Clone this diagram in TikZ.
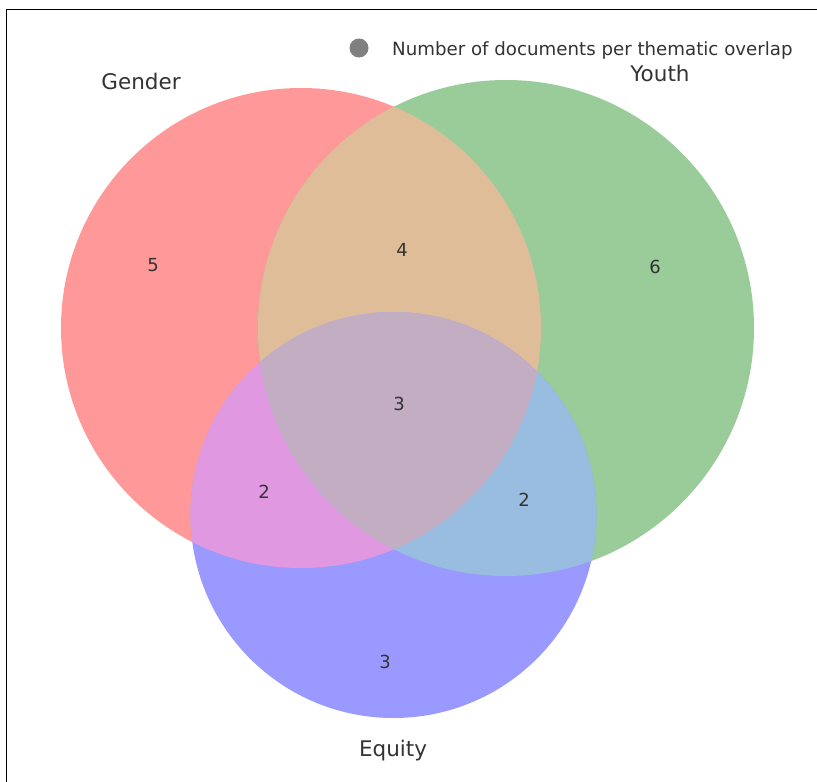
\documentclass[tikz,border=0pt]{standalone}
\usepackage{fontspec}
\setmainfont{DejaVu Sans}
\definecolor{cA}{RGB}{255,153,153}
\definecolor{cB}{RGB}{153,204,153}
\definecolor{cC}{RGB}{153,153,255}
\definecolor{cAB}{RGB}{224,189,153}
\definecolor{cAC}{RGB}{224,153,224}
\definecolor{cBC}{RGB}{153,189,224}
\definecolor{cABC}{RGB}{194,173,194}
\definecolor{txt}{RGB}{51,51,51}
\begin{document}
\begin{tikzpicture}[x=1pt,y=-1pt,
  setlabel/.style={font=\fontsize{21.5}{24}\selectfont, text=txt, anchor=base, inner sep=0pt},
  numlabel/.style={font=\fontsize{18}{20}\selectfont, text=txt, anchor=base, inner sep=0pt},
  legtext/.style={font=\fontsize{18.2}{20}\selectfont, text=txt, anchor=base west, inner sep=0pt}]
\useasboundingbox (0,0) rectangle (817,782);
\fill[white] (0,0) rectangle (817,782);
% circles
\def\circA{(301,328) circle (240)}
\def\circB{(506,328) circle (248)}
\def\circC{(393.5,515) circle (203)}
\fill[cA] \circA;
\fill[cB] \circB;
\fill[cC] \circC;
\begin{scope}\clip \circA; \fill[cAB] \circB; \end{scope}
\begin{scope}\clip \circA; \fill[cAC] \circC; \end{scope}
\begin{scope}\clip \circB; \fill[cBC] \circC; \end{scope}
\begin{scope}\clip \circA; \clip \circB; \fill[cABC] \circC; \end{scope}
% frame
\draw[black, line width=1.5pt] (6.5,782) -- (6.5,9.5) -- (817,9.5);
% set labels
\node[setlabel] (lgender) at (141,89) {Gender};
\node[setlabel] (lyouth) at (660,81) {Youth};
\node[setlabel] (lequity) at (393,756) {Equity};
% region numbers
\node[numlabel] (nA) at (153,271) {5};
\node[numlabel] (nAB) at (402,256) {4};
\node[numlabel] (nB) at (655,273) {6};
\node[numlabel] (nABC) at (399,410) {3};
\node[numlabel] (nAC) at (264,498) {2};
\node[numlabel] (nBC) at (524,506) {2};
\node[numlabel] (nC) at (385,668) {3};
% legend
\fill[gray] (359,48) circle (9.5);
\node[legtext] (leg) at (392,55) {Number of documents per thematic overlap};
\end{tikzpicture}
\end{document}
